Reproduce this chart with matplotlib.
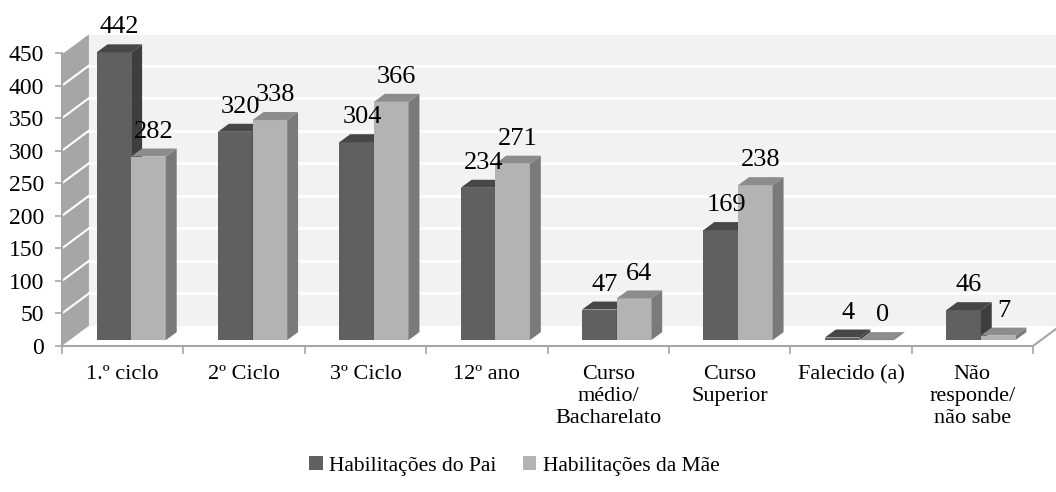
import matplotlib.pyplot as plt
from matplotlib.patches import Polygon, Rectangle, Patch

# data
categories = ["1.º ciclo", "2º Ciclo", "3º Ciclo", "12º ano",
              "Curso\nmédio/\nBacharelato", "Curso\nSuperior",
              "Falecido (a)", "Não\nresponde/\nnão sabe"]
pai = [442, 320, 304, 234, 47, 169, 4, 46]
mae = [282, 338, 366, 271, 64, 238, 0, 7]
series_names = ["Habilitações do Pai", "Habilitações da Mãe"]
yticks = [0, 50, 100, 150, 200, 250, 300, 350, 400, 450]

plt.rcParams['font.family'] = ['Liberation Serif', 'DejaVu Serif']

fig = plt.figure(figsize=(10.56, 4.92), dpi=100)
ax = fig.add_axes([62 / 1056, 146 / 492, 971 / 1056, 316 / 492])
ax.set_xlim(-0.5, 7.5)
ax.set_ylim(0, 316 / 0.6511)

# fake 3d geometry (data units)
dxw, dyw = 0.222, 30.7      # depth of the walls
dxb, dyb = 0.09, 12.3       # depth of each bar
base = 9                    # bars stand a bit behind the front edge
bw = 0.285
edge = '#a6a6a6'

# side wall
ax.add_patch(Polygon([(-0.5, 0), (-0.5, 450), (-0.5 + dxw, 450 + dyw),
                      (-0.5 + dxw, dyw)], closed=True, fc='#a6a6a6',
                     ec='none', clip_on=False, zorder=1))
# back wall
ax.add_patch(Rectangle((-0.5 + dxw, dyw), 8.5, 450, fc='#f2f2f2',
                       ec='none', clip_on=False, zorder=1))
for v in yticks[1:]:
    ax.plot([-0.5 + dxw, 8.2], [v + dyw, v + dyw], color='white', lw=2,
            zorder=2, clip_on=False)
    ax.plot([-0.5, -0.5 + dxw], [v, v + dyw], color='white', lw=1.5,
            zorder=2, clip_on=False)
# floor
ax.add_patch(Polygon([(-0.5, 0), (7.5, 0), (7.5 + dxw, dyw), (-0.5 + dxw, dyw)],
                     closed=True, fc='white', ec='none', clip_on=False, zorder=2))
ax.plot([-0.5, 7.5, 7.5 + dxw], [0, 0, dyw], color=edge, lw=1.5,
        zorder=3, clip_on=False)
ax.plot([-0.5, -0.5], [0, 450], color=edge, lw=1.5, zorder=3, clip_on=False)


def bar3d(x0, h, front, side, top):
    ax.add_patch(Rectangle((x0, base), bw, h, fc=front, ec='none', zorder=4))
    x1 = x0 + bw
    ax.add_patch(Polygon([(x1, base), (x1 + dxb, base + dyb),
                          (x1 + dxb, base + h + dyb), (x1, base + h)],
                         closed=True, fc=side, ec='none', zorder=4))
    ax.add_patch(Polygon([(x0, base + h), (x1, base + h),
                          (x1 + dxb, base + h + dyb), (x0 + dxb, base + h + dyb)],
                         closed=True, fc=top, ec='none', zorder=4))
    ax.text(x0 + bw / 2 + dxb / 2, base + h + dyb + 9, str(h), ha='center',
            va='bottom', fontsize=19, zorder=6)


for i in range(len(categories)):
    bar3d(i - 0.215, pai[i], '#606060', '#3e3e3e', '#474747')
    bar3d(i + 0.07, mae[i], '#b3b3b3', '#7a7a7a', '#8c8c8c')

for s in ax.spines.values():
    s.set_visible(False)
ax.set_yticks(yticks)
ax.set_yticklabels([str(v) for v in yticks], fontsize=17)
ax.tick_params(axis='y', length=5, width=1.2, color=edge, pad=8)
ax.set_xticks(range(len(categories)))
ax.set_xticklabels(categories, fontsize=16, linespacing=1.2)
ax.set_xticks([i - 0.5 for i in range(len(categories) + 1)], minor=True)
ax.tick_params(axis='x', which='major', length=0, pad=14)
ax.tick_params(axis='x', which='minor', length=6, width=1.2, color=edge)

handles = [Patch(fc='#606060', ec='none'), Patch(fc='#b3b3b3', ec='none')]
fig.legend(handles, series_names, loc='center', bbox_to_anchor=(0.487, 1 - 466 / 492),
           ncol=2, frameon=False, fontsize=15.5, handlelength=0.65,
           handleheight=0.65, handletextpad=0.3, columnspacing=1.2)

fig.savefig('out.png', dpi=100)
